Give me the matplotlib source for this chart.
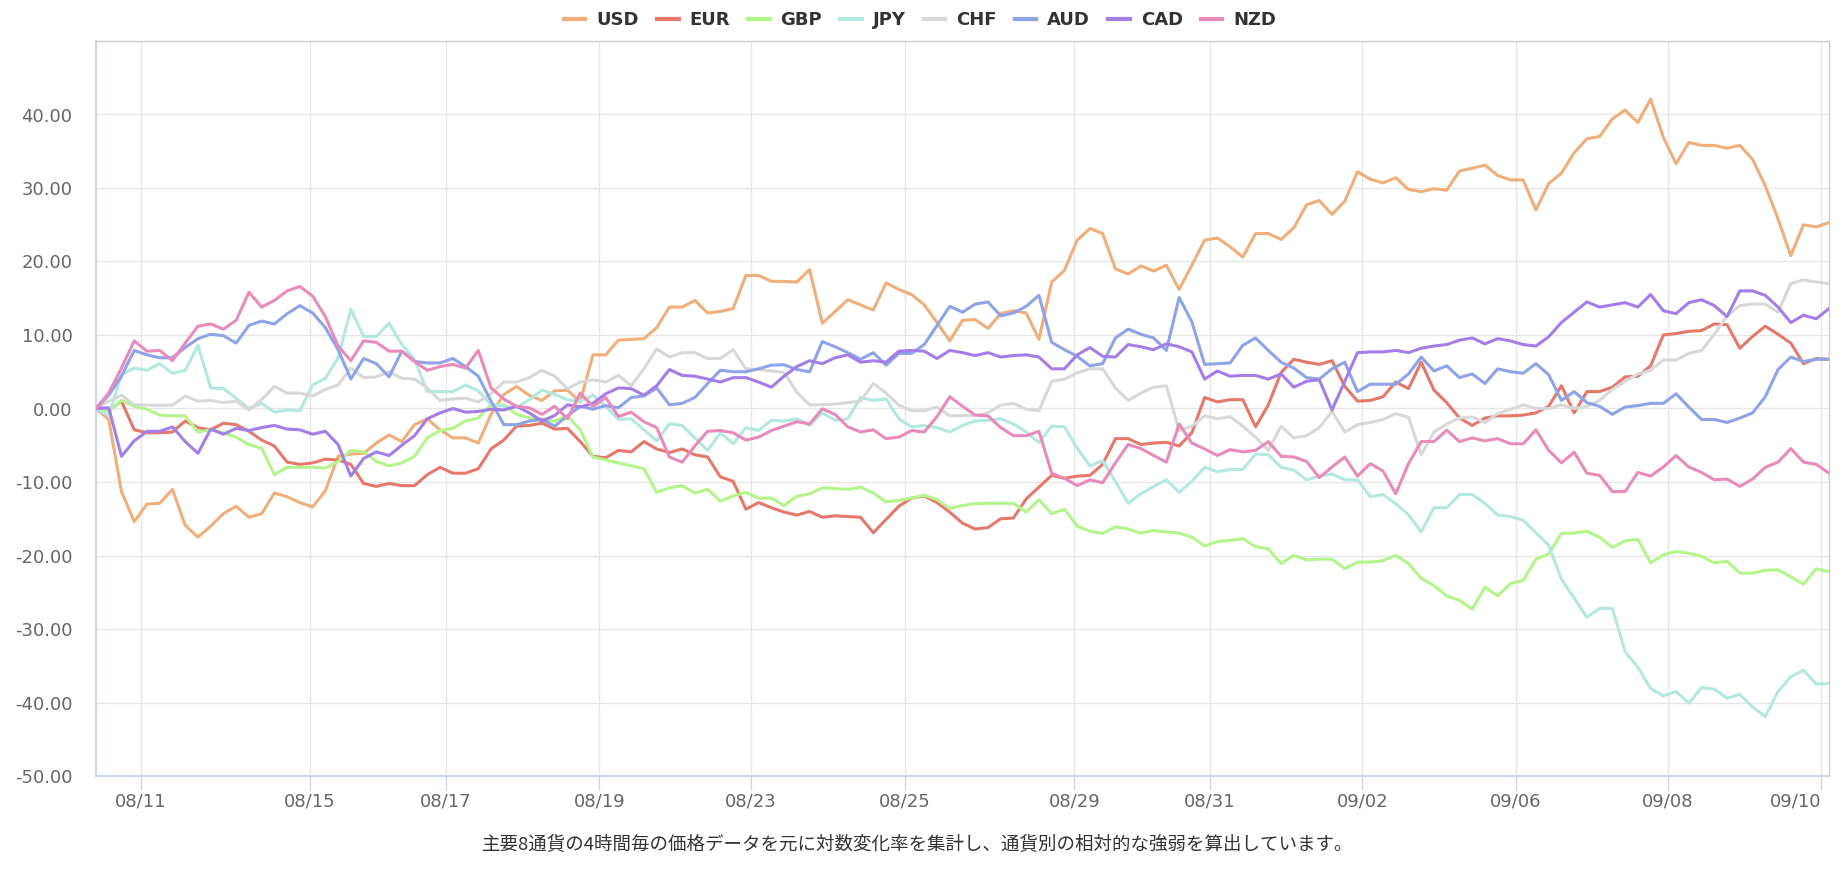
import matplotlib
matplotlib.use("Agg")
import matplotlib.pyplot as plt
from matplotlib.ticker import FuncFormatter
from matplotlib.lines import Line2D

currencies = ["USD", "EUR", "GBP", "JPY", "CHF", "AUD", "CAD", "NZD"]
colors = ["#efae7a", "#e5786b", "#b3f58b", "#b3e8e0", "#d8d8d8", "#8ea3e8", "#a47ee8", "#e88bbb"]

usd = [0, -1.5, -11.3, -15.4, -13.0, -12.9, -11.0, -15.9, -17.5, -16.0, -14.3, -13.3, -14.8, -14.3, -11.5, -12.0, -12.8, -13.4, -11.2, -6.5, -6.2, -6.1, -4.7, -3.6, -4.5, -2.2, -1.4, -2.9,
       -4.0, -4.0, -4.7, -0.8, 1.9, 3.0, 1.8, 1.1, 2.4, 2.5, 0.9, 7.3, 7.3, 9.3, 9.4, 9.5, 11.0, 13.8, 13.8, 14.7, 13.0, 13.2, 13.6, 18.1, 18.1, 17.3, 17.3,
       17.2, 18.9, 11.6, 13.2, 14.8, 14.1, 13.4, 17.1, 16.2, 15.5, 14.1, 11.7, 9.2, 12.0, 12.1, 10.9, 12.9, 13.3, 13.0, 9.4, 17.2, 18.8, 22.9, 24.5, 23.8, 19.0, 18.3,
       19.4, 18.7, 19.5, 16.2, 19.5, 22.9, 23.2, 22.0, 20.6, 23.8, 23.8, 23.0, 24.6, 27.7, 28.3, 26.4, 28.2, 32.2, 31.2, 30.7, 31.4, 29.8, 29.5, 29.9, 29.7, 32.3, 32.7, 33.1,
       31.7, 31.1, 31.1, 27.0, 30.6, 32.0, 34.8, 36.7, 37.0, 39.4, 40.6, 38.9, 42.1, 36.9, 33.3, 36.2, 35.8, 35.8, 35.4, 35.8, 33.9, 30.3, 25.8, 20.8, 25.0, 24.7, 25.3]

eur = [0, -0.3, 1.0, -2.9, -3.3, -3.3, -3.2, -1.7, -2.6, -2.9, -2.0, -2.2, -3.1, -4.3, -5.1, -7.3, -7.6, -7.4, -6.9, -7.0, -7.6, -10.2, -10.6, -10.2, -10.5, -10.5, -9.0, -8.0,
       -8.8, -8.8, -8.2, -5.5, -4.3, -2.4, -2.3, -2.0, -2.8, -2.7, -4.5, -6.5, -6.7, -5.7, -5.9, -4.5, -5.5, -6.0, -5.5, -6.3, -6.6, -9.3, -9.9, -13.7, -12.8, -13.5, -14.1,
       -14.5, -14.0, -14.8, -14.6, -14.7, -14.8, -16.9, -15.1, -13.3, -12.2, -11.9, -12.8, -14.1, -15.6, -16.4, -16.2, -15.0, -14.9, -12.3, -10.7, -9.1, -9.5, -9.2, -9.1, -7.6, -4.1, -4.1,
       -4.9, -4.7, -4.6, -5.1, -3.3, 1.5, 0.9, 1.2, 1.2, -2.5, 0.5, 4.9, 6.7, 6.3, 6.0, 6.5, 3.0, 1.0, 1.1, 1.6, 3.6, 2.7, 6.3, 2.5, 0.8, -1.3, -2.3, -1.3,
       -1.0, -1.0, -0.9, -0.6, 0.3, 3.1, -0.6, 2.3, 2.3, 2.9, 4.3, 4.4, 5.8, 10.0, 10.2, 10.5, 10.6, 11.5, 11.4, 8.2, 9.8, 11.2, 10.1, 8.9, 6.1, 6.8, 6.7]

gbp = [0, -0.4, 1.1, 0.3, -0.1, -0.9, -1.0, -1.0, -3.2, -2.9, -3.3, -3.9, -4.9, -5.4, -9.0, -8.0, -8.0, -8.0, -8.1, -7.2, -5.7, -5.9, -7.2, -7.8, -7.4, -6.5, -4.0, -3.0,
       -2.7, -1.7, -1.3, 0.5, 0.5, -0.8, -1.3, -1.4, -1.7, -1.0, -2.9, -6.6, -7.0, -7.4, -7.8, -8.2, -11.4, -10.8, -10.5, -11.5, -11.0, -12.6, -11.9, -11.4, -12.2, -12.2, -13.2,
       -11.95, -11.6, -10.8, -10.9, -11.0, -10.7, -11.5, -12.7, -12.5, -12.2, -11.8, -12.4, -13.6, -13.2, -12.95, -12.9, -12.9, -12.9, -14.1, -12.4, -14.3, -13.7, -16.0, -16.7, -17.0, -16.1, -16.4,
       -16.95, -16.6, -16.8, -16.95, -17.5, -18.7, -18.1, -17.95, -17.7, -18.8, -19.1, -21.1, -20.0, -20.6, -20.5, -20.5, -21.8, -20.9, -20.9, -20.7, -20.0, -21.1, -23.1, -24.1, -25.5, -26.1, -27.3, -24.3,
       -25.5, -23.8, -23.4, -20.5, -19.8, -17.0, -16.95, -16.7, -17.5, -18.9, -18.0, -17.8, -21.0, -19.9, -19.45, -19.7, -20.1, -21.0, -20.8, -22.4, -22.4, -22.0, -21.95, -22.9, -23.9, -21.8, -22.2]

jpy = [0, -1.0, 4.6, 5.5, 5.2, 6.1, 4.8, 5.2, 8.6, 2.8, 2.7, 1.4, 0, 0.7, -0.5, -0.2, -0.3, 3.2, 4.1, 6.9, 13.5, 9.8, 9.8, 11.6, 8.7, 6.7, 2.3, 2.3,
       2.3, 3.2, 2.4, 0.5, 0.3, 0.1, 1.2, 2.5, 1.9, 1.2, 1.0, 1.8, 0.3, -1.5, -1.4, -2.9, -4.4, -2.1, -2.3, -4.0, -5.7, -3.3, -4.8, -2.6, -3.0, -1.6, -1.7,
       -1.4, -2.3, -0.6, -1.6, -1.4, 1.5, 1.1, 1.3, -1.4, -2.5, -2.3, -2.6, -3.2, -2.3, -1.7, -1.6, -1.4, -2.1, -3.2, -4.6, -2.4, -2.5, -5.4, -7.8, -7.1, -9.9, -12.9,
       -11.6, -10.6, -9.7, -11.4, -9.9, -8.0, -8.6, -8.3, -8.3, -6.2, -6.3, -8.0, -8.4, -9.7, -9.2, -8.9, -9.7, -9.7, -12.0, -11.7, -12.95, -14.45, -16.8, -13.5, -13.5, -11.7, -11.7, -12.9,
       -14.5, -14.7, -15.2, -16.9, -18.6, -23.2, -25.8, -28.4, -27.2, -27.2, -33.1, -35.2, -38.1, -39.1, -38.5, -40.1, -37.95, -38.2, -39.4, -38.9, -40.6, -41.9, -38.5, -36.5, -35.6, -37.5, -37.4]

chf = [0, 1.0, 1.8, 0.5, 0.45, 0.45, 0.45, 1.7, 1.0, 1.1, 0.8, 1.0, -0.2, 1.2, 3.0, 2.1, 2.1, 1.7, 2.6, 3.2, 5.5, 4.2, 4.3, 5.0, 4.1, 4.0, 2.8, 1.1,
       1.3, 1.4, 0.9, 2.0, 3.6, 3.6, 4.2, 5.2, 4.4, 2.7, 3.6, 3.9, 3.6, 4.5, 3.1, 5.4, 8.1, 7.0, 7.6, 7.6, 6.8, 6.8, 8.0, 5.4, 5.3, 5.1, 4.9,
       2.2, 0.5, 0.5, 0.6, 0.8, 1.0, 3.4, 2.1, 0.45, -0.3, -0.3, 0.2, -1.0, -0.95, -0.95, -0.6, 0.45, 0.7, -0.1, -0.3, 3.7, 4.0, 4.85, 5.4, 5.4, 2.8, 1.1,
       2.1, 2.9, 3.1, -3.0, -2.4, -1.0, -1.4, -1.1, -2.4, -3.9, -5.7, -2.4, -4.0, -3.7, -2.6, -0.4, -3.2, -2.2, -1.9, -1.5, -0.7, -1.2, -6.3, -3.2, -2.1, -1.3, -1.15, -1.9,
       -0.7, -0.1, 0.5, 0, 0, 0.5, 0, 0.3, 1.1, 2.6, 3.7, 4.7, 5.2, 6.6, 6.6, 7.5, 7.9, 10.1, 12.6, 14.0, 14.2, 14.2, 13.1, 17.0, 17.5, 17.2, 17.0]

aud = [0, 1.8, 4.4, 7.9, 7.3, 6.9, 6.9, 8.3, 9.5, 10.1, 9.9, 8.9, 11.3, 11.9, 11.5, 12.9, 14.0, 13.0, 11.0, 8.0, 4.0, 6.8, 6.1, 4.3, 7.8, 6.4, 6.2, 6.2,
       6.8, 5.7, 4.4, 1.0, -2.2, -2.2, -1.7, -1.5, -2.4, -1.0, 0.3, -0.1, 0.4, 0.1, 1.5, 1.7, 2.8, 0.5, 0.7, 1.5, 3.4, 5.2, 5.0, 5.0, 5.4, 5.9, 5.95,
       5.3, 5.0, 9.1, 8.4, 7.6, 6.7, 7.6, 5.9, 7.5, 7.5, 8.7, 11.3, 13.9, 13.1, 14.2, 14.5, 12.6, 13.0, 13.9, 15.4, 9.0, 8.0, 7.1, 5.8, 6.1, 9.6, 10.8,
       10.1, 9.6, 7.9, 15.1, 11.8, 6.0, 6.1, 6.2, 8.6, 9.6, 7.9, 6.3, 5.5, 4.2, 4.0, 5.4, 6.3, 2.3, 3.3, 3.3, 3.3, 4.7, 7.0, 5.1, 5.8, 4.2, 4.7, 3.4,
       5.4, 5.0, 4.8, 6.1, 4.6, 1.1, 2.3, 0.8, 0.3, -0.8, 0.2, 0.4, 0.7, 0.7, 2.0, 0.2, -1.5, -1.5, -1.9, -1.3, -0.6, 1.6, 5.3, 7.0, 6.4, 6.7, 6.7]

cad = [0, 0.1, -6.5, -4.4, -3.1, -3.1, -2.5, -4.5, -6.1, -2.8, -3.5, -2.7, -3.0, -2.6, -2.3, -2.8, -2.9, -3.5, -3.1, -4.9, -9.2, -6.8, -5.9, -6.4, -5.0, -3.7, -1.4, -0.6,
       0, -0.5, -0.4, -0.1, -0.2, 0.3, -0.6, -1.7, -0.95, 0.5, 0.2, 0.7, 2.0, 2.8, 2.7, 1.8, 3.1, 5.3, 4.5, 4.4, 4.0, 3.6, 4.2, 4.2, 3.6, 2.9, 4.4,
       5.7, 6.5, 6.1, 6.9, 7.3, 6.3, 6.5, 6.3, 7.8, 7.9, 7.8, 6.8, 7.9, 7.6, 7.2, 7.6, 7.0, 7.2, 7.3, 7.0, 5.4, 5.4, 7.3, 8.3, 7.1, 7.0, 8.7,
       8.4, 8.0, 8.8, 8.4, 7.7, 4.0, 5.1, 4.4, 4.5, 4.5, 4.0, 4.7, 2.9, 3.7, 3.9, -0.2, 3.7, 7.6, 7.7, 7.7, 7.9, 7.6, 8.2, 8.5, 8.7, 9.3, 9.6, 8.8,
       9.5, 9.2, 8.7, 8.5, 9.75, 11.7, 13.1, 14.5, 13.8, 14.1, 14.4, 13.8, 15.5, 13.3, 12.9, 14.4, 14.8, 14.0, 12.5, 16.0, 16.0, 15.4, 13.8, 11.7, 12.7, 12.2, 13.6]

nzd = [0, 2.1, 5.5, 9.2, 7.8, 7.9, 6.5, 8.9, 11.2, 11.5, 10.8, 12.0, 15.8, 13.8, 14.7, 16.0, 16.6, 15.3, 12.5, 8.5, 6.5, 9.2, 9.0, 7.8, 7.8, 6.4, 5.2, 5.7,
       6.0, 5.5, 7.9, 2.8, 1.3, 0.3, 0.1, -0.8, 0.3, -1.4, 2.1, 0.3, 1.5, -1.1, -0.5, -1.8, -2.6, -6.6, -7.3, -5.1, -3.1, -3.0, -3.3, -4.3, -3.9, -3.0, -2.4,
       -1.8, -2.1, -0.05, -0.8, -2.5, -3.2, -2.9, -4.1, -3.9, -3.0, -3.2, -1.1, 1.6, 0.3, -0.9, -1.0, -2.6, -3.7, -3.7, -3.1, -8.8, -9.5, -10.5, -9.7, -10.1, -7.4, -4.9,
       -5.45, -6.4, -7.3, -2.1, -4.7, -5.5, -6.4, -5.6, -5.9, -5.7, -4.5, -6.5, -6.6, -7.2, -9.4, -7.95, -6.6, -9.2, -7.5, -8.5, -11.6, -7.5, -4.5, -4.5, -2.95, -4.5, -4.0, -4.4,
       -4.1, -4.8, -4.8, -2.9, -5.7, -7.4, -5.95, -8.8, -9.1, -11.3, -11.3, -8.7, -9.2, -7.95, -6.4, -7.95, -8.7, -9.7, -9.6, -10.6, -9.6, -8.0, -7.3, -5.45, -7.3, -7.6, -8.8]

tick_labels = ["08/11", "08/15", "08/17", "08/19", "08/23", "08/25", "08/29", "08/31", "09/02", "09/06", "09/08", "09/10"]
tick_pos = [3.51, 16.79, 27.47, 39.5, 51.42, 63.46, 76.77, 87.42, 99.37, 111.41, 123.34, 135.37]
y_ticks = [-50, -40, -30, -20, -10, 0, 10, 20, 30, 40]
caption = "主要8通貨の4時間毎の価格データを元に対数変化率を集計し、通貨別の相対的な強弱を算出しています。"

series = [usd, eur, gbp, jpy, chf, aud, cad, nzd]

W, H = 1846, 872
fig = plt.figure(figsize=(W / 100, H / 100), dpi=100)
left, right, top, bottom = 96, 1829, 41, 776
ax = fig.add_axes([left / W, 1 - bottom / H, (right - left) / W, (bottom - top) / H])

for name, vals, c in zip(currencies, series, colors):
    ax.plot(range(len(vals)), vals, color=c, lw=2.2, label=name,
            solid_joinstyle="round", solid_capstyle="round", zorder=3)

ax.set_xlim(0, len(usd) - 1)
ax.set_ylim(-50, 50)
ax.set_yticks(y_ticks)
ax.yaxis.set_major_formatter(FuncFormatter(lambda v, p: f"{v:.2f}"))
ax.set_xticks(tick_pos)
ax.set_xticklabels(tick_labels)
# keep the last label inside the plot, as the original chart does
ax.get_xticklabels()[-1].set_horizontalalignment("right")

ax.grid(True, color="#e6e6e6", lw=1.0, zorder=0)
ax.set_axisbelow(True)
for s in ("left", "bottom"):
    ax.spines[s].set_color("#ccd6eb")
    ax.spines[s].set_linewidth(1.5)
for s in ("top", "right"):
    ax.spines[s].set_color("#cccccc")
    ax.spines[s].set_linewidth(1.0)

ax.tick_params(axis="y", length=0, pad=17, labelsize=13, labelcolor="#666666")
ax.tick_params(axis="x", length=10, width=1, color="#ccd6eb", pad=2,
               labelsize=13, labelcolor="#666666")

handles = [Line2D([0], [0], color=c, lw=3) for c in colors]
fig.legend(handles, currencies, loc="center", bbox_to_anchor=(920 / W, 1 - 20 / H),
           ncol=8, frameon=False, handlelength=1.2, handletextpad=0.6,
           columnspacing=1.0, prop={"weight": "bold", "size": 13},
           labelcolor="#333333")

fig.text(918 / W, 1 - 845 / H, caption, ha="center", va="center", fontsize=13.3,
         family=["Noto Sans CJK JP", "DejaVu Sans"], color="#333333")

fig.savefig("out.png", dpi=100)
